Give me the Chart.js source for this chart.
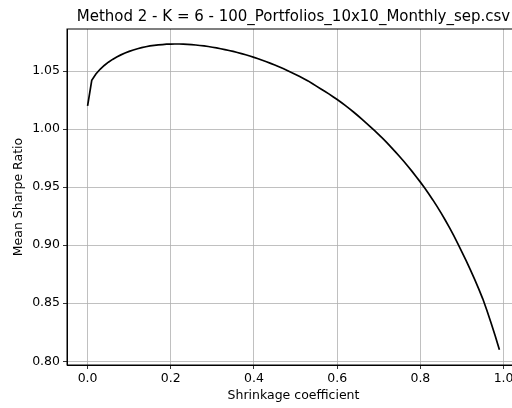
<!DOCTYPE html>
<html>
<head>
<meta charset="utf-8">
<script src="https://cdn.jsdelivr.net/npm/chart.js@4"></script>
<style>
  html, body { margin: 0; padding: 0; background: #fff; overflow: hidden; }
  canvas { display: block; }
</style>
</head>
<body>
<canvas id="myChart" width="520" height="408"></canvas>
<script>
const shrinkage = [
    0.00, 0.01, 0.02, 0.03, 0.04, 0.05, 0.06, 0.07, 0.08, 0.09,
    0.10, 0.11, 0.12, 0.13, 0.14, 0.15, 0.16, 0.17, 0.18, 0.19,
    0.20, 0.21, 0.22, 0.23, 0.24, 0.25, 0.26, 0.27, 0.28, 0.29,
    0.30, 0.31, 0.32, 0.33, 0.34, 0.35, 0.36, 0.37, 0.38, 0.39,
    0.40, 0.41, 0.42, 0.43, 0.44, 0.45, 0.46, 0.47, 0.48, 0.49,
    0.50, 0.51, 0.52, 0.53, 0.54, 0.55, 0.56, 0.57, 0.58, 0.59,
    0.60, 0.61, 0.62, 0.63, 0.64, 0.65, 0.66, 0.67, 0.68, 0.69,
    0.70, 0.71, 0.72, 0.73, 0.74, 0.75, 0.76, 0.77, 0.78, 0.79,
    0.80, 0.81, 0.82, 0.83, 0.84, 0.85, 0.86, 0.87, 0.88, 0.89,
    0.90, 0.91, 0.92, 0.93, 0.94, 0.95, 0.96, 0.97, 0.98, 0.99
];
const sharpe = [
    1.0200, 1.0420, 1.0475, 1.0515, 1.0548, 1.0576, 1.0600, 1.0621, 1.0639, 1.0655,
    1.0669, 1.0681, 1.0692, 1.0701, 1.0709, 1.0716, 1.0721, 1.0725, 1.0728, 1.0731,
    1.0732, 1.0733, 1.0733, 1.0732, 1.0730, 1.0727, 1.0724, 1.0720, 1.0716, 1.0711,
    1.0705, 1.0699, 1.0692, 1.0685, 1.0677, 1.0669, 1.0660, 1.0650, 1.0640, 1.0629,
    1.0618, 1.0606, 1.0593, 1.0580, 1.0566, 1.0552, 1.0537, 1.0521, 1.0505, 1.0488,
    1.0471, 1.0453, 1.0434, 1.0415, 1.0393, 1.0370, 1.0348, 1.0326, 1.0303, 1.0279,
    1.0255, 1.0229, 1.0202, 1.0174, 1.0145, 1.0115, 1.0084, 1.0052, 1.0019, 0.9986,
    0.9952, 0.9917, 0.9881, 0.9843, 0.9804, 0.9764, 0.9723, 0.9680, 0.9636, 0.9590,
    0.9543, 0.9494, 0.9443, 0.9390, 0.9334, 0.9276, 0.9215, 0.9151, 0.9084, 0.9014,
    0.8941, 0.8867, 0.8790, 0.8710, 0.8626, 0.8538, 0.8437, 0.8330, 0.8218, 0.8100
];
const xTicks = [0.0, 0.2, 0.4, 0.6, 0.8, 1.0];
const yTicks = [0.80, 0.85, 0.90, 0.95, 1.00, 1.05];

const FONT = 'DejaVu Sans';

// matplotlib draws a full box round the axes
const frame = {
    id: 'frame',
    afterDatasetsDraw(chart) {
        const a = chart.chartArea;
        const c = chart.ctx;
        c.save();
        c.strokeStyle = '#000';
        c.lineWidth = 1;
        c.strokeRect(a.left, a.top, a.right - a.left, a.bottom - a.top);
        c.restore();
    }
};

const ctx = document.getElementById('myChart').getContext('2d');
const myChart = new Chart(ctx, {
    type: 'line',
    data: {
        datasets: [{
            data: shrinkage.map((x, i) => ({ x: x, y: sharpe[i] })),
            borderColor: '#000',
            borderWidth: 1.7,
            pointRadius: 0,
            fill: false,
            tension: 0
        }]
    },
    options: {
        responsive: false,
        animation: false,
        devicePixelRatio: 1,
        layout: { padding: 0 },
        plugins: {
            legend: { display: false },
            tooltip: { enabled: false },
            title: {
                display: true,
                text: 'Method 2 - K = 6 - 100_Portfolios_10x10_Monthly_sep.csv',
                color: '#000',
                fullSize: false,
                font: { family: FONT, size: 15, weight: 'normal' },
                padding: { top: 8, bottom: 3 }
            }
        },
        scales: {
            x: {
                type: 'linear',
                min: -0.0495,
                max: 1.0395,
                afterBuildTicks: (s) => { s.ticks = xTicks.map(v => ({ value: v })); },
                afterFit: (s) => { s.height = 43; },
                ticks: {
                    color: '#000',
                    padding: 2,
                    maxRotation: 0,
                    font: { family: FONT, size: 12.5 },
                    callback: (v) => v.toFixed(1)
                },
                grid: { color: '#b0b0b0', lineWidth: 0.8, tickColor: '#000', tickLength: 4 },
                border: { color: '#000', width: 1 },
                title: {
                    display: true,
                    text: 'Shrinkage coefficient',
                    color: '#000',
                    font: { family: FONT, size: 12.5 },
                    padding: { top: 2, bottom: 5 }
                }
            },
            y: {
                min: 0.7968,
                max: 1.0862,
                afterBuildTicks: (s) => { s.ticks = yTicks.map(v => ({ value: v })); },
                afterFit: (s) => { s.width = 67; },
                ticks: {
                    color: '#000',
                    padding: 3,
                    font: { family: FONT, size: 12.5 },
                    callback: (v) => v.toFixed(2)
                },
                grid: { color: '#b0b0b0', lineWidth: 0.8, tickColor: '#000', tickLength: 4 },
                border: { color: '#000', width: 1 },
                title: {
                    display: true,
                    text: 'Mean Sharpe Ratio',
                    color: '#000',
                    font: { family: FONT, size: 12.5 },
                    padding: { top: 11, bottom: 0 }
                }
            }
        }
    },
    plugins: [frame]
});
</script>
</body>
</html>
